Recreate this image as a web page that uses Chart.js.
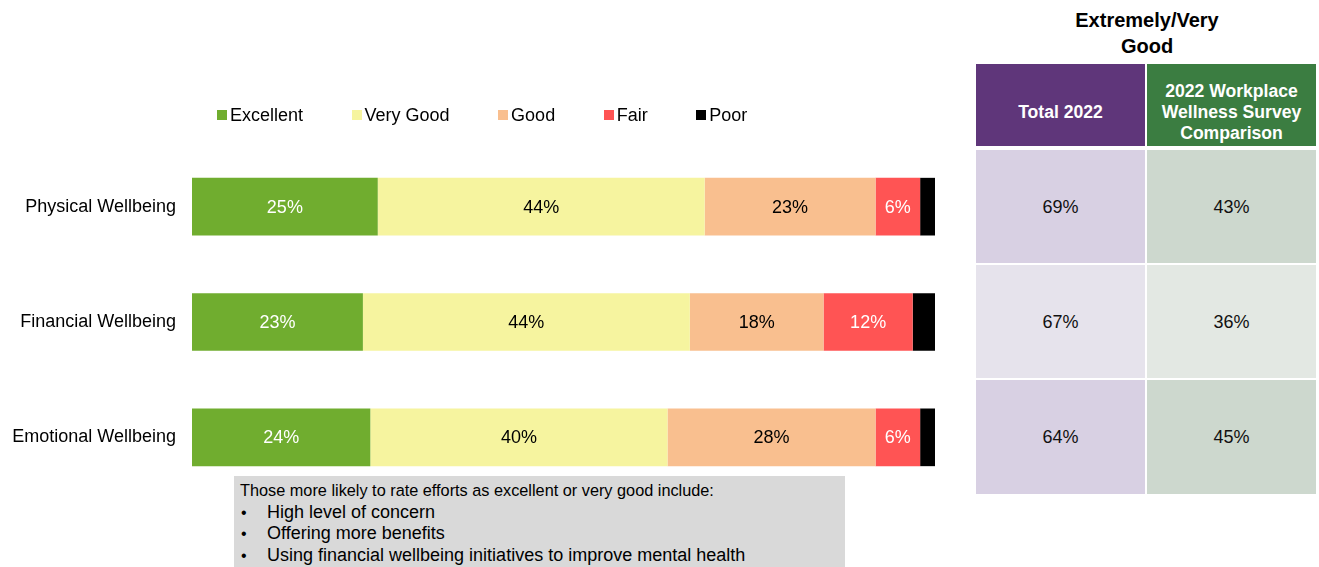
<!DOCTYPE html>
<html>
<head>
<meta charset="utf-8">
<script src="https://cdn.jsdelivr.net/npm/chart.js@4.4.1/dist/chart.umd.min.js"></script>
<style>
  html, body { margin: 0; padding: 0; background: #fff; }
  body { width: 1319px; height: 567px; position: relative; overflow: hidden;
         font-family: "Liberation Sans", Arial, sans-serif; color: #000; }
  #chartWrap { position: absolute; left: 0; top: 0; width: 960px; height: 567px; }
  #legend { position: absolute; left: 217px; top: 104px; display: flex; gap: 48.5px;
            font-size: 18px; line-height: 22px; }
  .lg-item { display: flex; align-items: center; white-space: nowrap; }
  .lg-box { width: 10px; height: 10px; margin-right: 3px; }
  #notes { position: absolute; left: 234px; top: 476px; width: 611px; height: 95px;
           background: #d9d9d9; font-size: 18px; line-height: 21.5px; padding-top: 4px;
           box-sizing: border-box; }
  #notes .head { padding-left: 6px; font-size: 16.3px; }
  #notes .item { position: relative; padding-left: 33px; }
  #notes .item::before { content: "\2022"; position: absolute; left: 7px; font-size: 16px; }
  #tblTitle { position: absolute; left: 1047px; top: 7px; width: 200px; text-align: center;
              font-weight: bold; font-size: 20px; line-height: 26px; }
  .cell { position: absolute; display: flex; align-items: center; justify-content: center;
          text-align: center; box-sizing: border-box; }
  .cell.hdr { color: #fff; font-weight: bold; font-size: 17.6px; line-height: 21px;
              padding: 14px 4px 0 4px; }
  .cell.val { font-size: 18px; color: #111; padding-top: 1px; }
</style>
</head>
<body>
<div id="chartWrap"><canvas id="bars"></canvas></div>
<div id="legend"></div>
<div id="notes"></div>
<div id="tblTitle">Extremely/Very<br>Good</div>
<div id="table"></div>

<script>
// Wellbeing categories and the share of ratings in each band (percent)
const categories = ['Physical Wellbeing', 'Financial Wellbeing', 'Emotional Wellbeing'];
const excellent = [25, 23, 24];
const veryGood  = [44, 44, 40];
const good      = [23, 18, 28];
const fair      = [6, 12, 6];
const poor      = [2, 3, 2];

// Extremely/Very Good comparison table
const columnHeads = ['Total 2022', '2022 Workplace Wellness Survey Comparison'];
const total2022 = [69, 67, 64];
const surveyComparison = [43, 36, 45];

// Notes box
const notesHead = 'Those more likely to rate efforts as excellent or very good include:';
const notesItems = [
  'High level of concern',
  'Offering more benefits',
  'Using financial wellbeing initiatives to improve mental health'
];

const series = [
  { label: 'Excellent', data: excellent, color: '#70ad2f', text: '#ffffff', show: true },
  { label: 'Very Good', data: veryGood,  color: '#f6f49f', text: '#000000', show: true },
  { label: 'Good',      data: good,      color: '#f9bf8f', text: '#000000', show: true },
  { label: 'Fair',      data: fair,      color: '#ff5454', text: '#ffffff', show: true },
  { label: 'Poor',      data: poor,      color: '#000000', text: '#ffffff', show: false }
];

const FONT = '"Liberation Sans", Arial, sans-serif';

// Percent labels centred inside each segment
const segmentLabels = {
  id: 'segmentLabels',
  afterDatasetsDraw(chart) {
    const ctx = chart.ctx;
    ctx.save();
    ctx.font = '18px ' + FONT;
    ctx.textAlign = 'center';
    ctx.textBaseline = 'middle';
    chart.data.datasets.forEach((ds, i) => {
      if (!ds.showLabel) return;
      const meta = chart.getDatasetMeta(i);
      meta.data.forEach((el, j) => {
        const v = ds.data[j];
        if (v == null) return;
        ctx.fillStyle = ds.labelColor;
        ctx.fillText(v + '%', (el.x + el.base) / 2, el.y + 1);
      });
    });
    ctx.restore();
  }
};

const chart = new Chart(document.getElementById('bars'), {
  type: 'bar',
  data: {
    labels: categories,
    datasets: series.map(s => ({
      label: s.label,
      data: s.data,
      backgroundColor: s.color,
      borderWidth: 0,
      labelColor: s.text,
      showLabel: s.show,
      barPercentage: 0.5,
      categoryPercentage: 1
    }))
  },
  options: {
    indexAxis: 'y',
    responsive: true,
    maintainAspectRatio: false,
    animation: false,
    layout: { padding: { top: 149, bottom: 72, right: 25, left: 0 } },
    plugins: { legend: { display: false }, tooltip: { enabled: false } },
    scales: {
      x: { stacked: true, min: 0, max: 100, display: false },
      y: {
        stacked: true,
        grid: { display: false, drawTicks: false },
        border: { display: false },
        ticks: { color: '#000', padding: 16, font: { family: FONT, size: 18 } },
        afterFit(scale) { scale.width = 192; }
      }
    }
  },
  plugins: [segmentLabels]
});

// Legend built from the chart's datasets
const legend = document.getElementById('legend');
chart.data.datasets.forEach(ds => {
  const item = document.createElement('div');
  item.className = 'lg-item';
  const box = document.createElement('span');
  box.className = 'lg-box';
  box.style.background = ds.backgroundColor;
  const txt = document.createElement('span');
  txt.textContent = ds.label;
  item.appendChild(box);
  item.appendChild(txt);
  legend.appendChild(item);
});

// Notes box
const notes = document.getElementById('notes');
const nh = document.createElement('div');
nh.className = 'head';
nh.textContent = notesHead;
notes.appendChild(nh);
notesItems.forEach(t => {
  const d = document.createElement('div');
  d.className = 'item';
  d.textContent = t;
  notes.appendChild(d);
});

// Comparison table
const tbl = document.getElementById('table');
const colLeft = [976, 1147];
const colWidth = 169;
const rowTop = [64, 150, 265, 380];
const rowHeight = [82, 113, 113, 114];
const headColors = ['#5f367a', '#3b7d41'];
const bodyColors = [
  ['#d8d0e3', '#e6e3ec', '#d8d0e3'],
  ['#cdd8ce', '#e3e8e3', '#cdd8ce']
];
const columns = [total2022, surveyComparison];

function addCell(cls, left, top, w, h, bg, text) {
  const c = document.createElement('div');
  c.className = 'cell ' + cls;
  c.style.left = left + 'px';
  c.style.top = top + 'px';
  c.style.width = w + 'px';
  c.style.height = h + 'px';
  c.style.background = bg;
  c.textContent = text;
  tbl.appendChild(c);
}

columnHeads.forEach((h, c) => {
  addCell('hdr', colLeft[c], rowTop[0], colWidth, rowHeight[0], headColors[c], h);
  columns[c].forEach((v, r) => {
    addCell('val', colLeft[c], rowTop[r + 1], colWidth, rowHeight[r + 1], bodyColors[c][r], v + '%');
  });
});
</script>
</body>
</html>
